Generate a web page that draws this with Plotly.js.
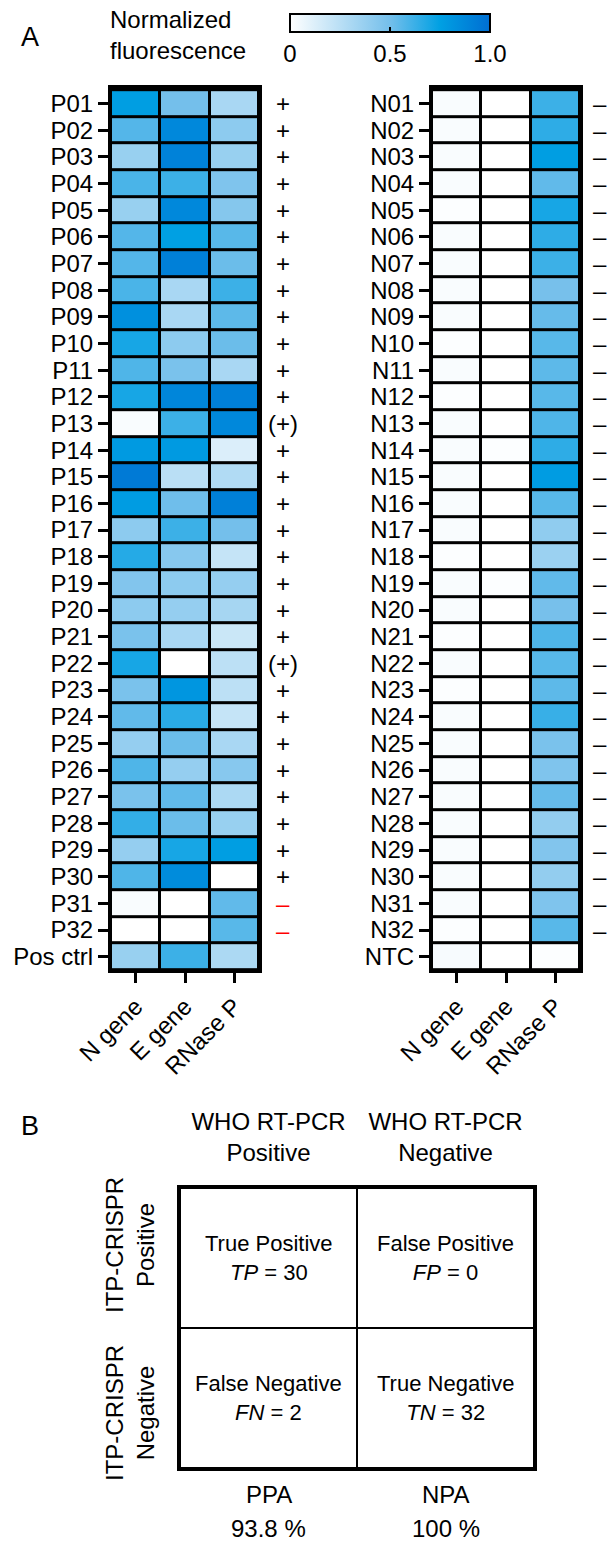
<!DOCTYPE html>
<html>
<head>
<meta charset="utf-8">
<script src="https://cdn.plot.ly/plotly-3.0.1.min.js"></script>
<style>
html,body{margin:0;padding:0;background:#fff;}
#chart{width:609px;height:1542px;}
</style>
</head>
<body>
<div id="chart"></div>
<script>
// ---------- Data ----------
const genes = ['N gene', 'E gene', 'RNase P'];

const posSamples = ['P01','P02','P03','P04','P05','P06','P07','P08','P09','P10','P11','P12','P13','P14','P15','P16',
  'P17','P18','P19','P20','P21','P22','P23','P24','P25','P26','P27','P28','P29','P30','P31','P32','Pos ctrl'];
const posN = [0.76,0.57,0.37,0.59,0.37,0.57,0.57,0.59,0.83,0.70,0.58,0.70,0.02,0.78,0.94,0.77,
  0.41,0.67,0.45,0.41,0.48,0.70,0.48,0.54,0.38,0.58,0.48,0.64,0.38,0.58,0.02,0.00,0.37];
const posE = [0.50,0.87,0.90,0.62,0.87,0.75,0.91,0.31,0.31,0.41,0.48,0.88,0.62,0.78,0.25,0.51,
  0.62,0.43,0.41,0.38,0.31,0.00,0.80,0.66,0.52,0.38,0.54,0.52,0.70,0.85,0.00,0.00,0.62];
const posR = [0.31,0.41,0.37,0.46,0.44,0.56,0.52,0.62,0.55,0.52,0.31,0.91,0.87,0.13,0.28,0.91,
  0.50,0.21,0.38,0.32,0.19,0.24,0.24,0.21,0.31,0.43,0.30,0.37,0.76,0.00,0.54,0.56,0.30];
const posCalls = ['+','+','+','+','+','+','+','+','+','+','+','+','(+)','+','+','+',
  '+','+','+','+','+','(+)','+','+','+','+','+','+','+','+','\u2013','\u2013',''];

const negSamples = ['N01','N02','N03','N04','N05','N06','N07','N08','N09','N10','N11','N12','N13','N14','N15','N16',
  'N17','N18','N19','N20','N21','N22','N23','N24','N25','N26','N27','N28','N29','N30','N31','N32','NTC'];
const negN = [0.02,0.02,0.02,0.02,0.01,0.02,0.02,0.02,0.02,0.01,0.02,0.01,0.02,0.02,0.02,0.02,
  0.02,0.01,0.02,0.02,0.01,0.02,0.01,0.02,0.02,0.02,0.02,0.02,0.02,0.02,0.02,0.01,0.03];
const negE = [0.00,0.00,0.00,0.00,0.00,0.00,0.00,0.00,0.00,0.00,0.00,0.00,0.00,0.01,0.00,0.00,
  0.00,0.00,0.01,0.00,0.00,0.00,0.00,0.00,0.00,0.00,0.00,0.00,0.00,0.00,0.00,0.00,0.00];
const negR = [0.62,0.65,0.76,0.54,0.70,0.65,0.62,0.49,0.53,0.56,0.55,0.56,0.58,0.65,0.77,0.56,
  0.40,0.36,0.54,0.49,0.58,0.56,0.55,0.63,0.48,0.46,0.53,0.39,0.45,0.39,0.46,0.56,0.01];
const negCalls = ['\u2013','\u2013','\u2013','\u2013','\u2013','\u2013','\u2013','\u2013','\u2013','\u2013','\u2013',
  '\u2013','\u2013','\u2013','\u2013','\u2013','\u2013','\u2013','\u2013','\u2013','\u2013','\u2013','\u2013','\u2013',
  '\u2013','\u2013','\u2013','\u2013','\u2013','\u2013','\u2013','\u2013',''];

const cbTickVals = [0, 0.5, 1];
const cbTickText = ['0', '0.5', '1.0'];

// Confusion matrix (panel B)
const refCats = ['WHO RT-PCR<br>Positive', 'WHO RT-PCR<br>Negative'];
const testCats = ['ITP-CRISPR<br>Positive', 'ITP-CRISPR<br>Negative'];
const cmNames = [['True Positive', 'False Positive'], ['False Negative', 'True Negative']];
const cmAbbr = [['TP', 'FP'], ['FN', 'TN']];
const cmCounts = [[30, 0], [2, 32]];
const agreeNames = ['PPA', 'NPA'];
const agreeVals = ['93.8 %', '100 %'];

// ---------- Layout helpers ----------
const W = 609, H = 1542;
const px = v => v / W;
const py = v => 1 - v / H;
const FONT = 'Liberation Sans, Arial, Helvetica, sans-serif';
const redCall = '#ff0000';

const zPos = posSamples.map((_, i) => [posN[i], posE[i], posR[i]]);
const zNeg = negSamples.map((_, i) => [negN[i], negE[i], negR[i]]);

const traces = [
  {type:'heatmap', x:genes, y:posSamples, z:zPos, coloraxis:'coloraxis', xgap:3, ygap:3,
   xaxis:'x', yaxis:'y', hoverinfo:'x+y+z'},
  {type:'heatmap', x:genes, y:negSamples, z:zNeg, coloraxis:'coloraxis', xgap:3, ygap:3,
   xaxis:'x2', yaxis:'y2', hoverinfo:'x+y+z'},
  {type:'heatmap', x:refCats, y:testCats, z:cmCounts, xgap:2, ygap:2,
   colorscale:[[0,'#ffffff'],[1,'#ffffff']], showscale:false,
   xaxis:'x3', yaxis:'y3', hoverinfo:'x+y+z'}
];

const hmAxisX = {
  type:'category', tickmode:'array', tickvals:genes, showline:true, mirror:true, linewidth:3, linecolor:'#000',
  ticks:'outside', ticklen:10, tickwidth:3, tickcolor:'#000',
  tickangle:-45, tickfont:{size:24, color:'#000', family:FONT}, showgrid:false, zeroline:false, fixedrange:true
};
const hmAxisY = {
  type:'category', tickmode:'array', autorange:'reversed', showline:true, mirror:true, linewidth:3, linecolor:'#000',
  ticks:'outside', ticklen:10, tickwidth:3, tickcolor:'#000',
  tickfont:{size:24, color:'#000', family:FONT}, showgrid:false, zeroline:false, fixedrange:true
};
const yDom = [py(970), py(88)];

const annotations = [];
annotations.push({text:'A', xref:'paper', yref:'paper', x:px(30), y:py(37), xanchor:'center', yanchor:'middle',
  showarrow:false, font:{size:27, color:'#000', family:FONT}});
annotations.push({text:'Normalized<br>fluorescence', xref:'paper', yref:'paper', x:px(108), y:py(35),
  xanchor:'left', yanchor:'middle', align:'left', showarrow:false, font:{size:24, color:'#000', family:FONT}});
posSamples.forEach((s, i) => {
  if (!posCalls[i]) return;
  annotations.push({text:posCalls[i], xref:'paper', yref:'y', x:px(283), y:s, xanchor:'center', yanchor:'middle',
    showarrow:false, font:{size:24, color: posCalls[i] === '\u2013' ? redCall : '#000', family:FONT}});
});
negSamples.forEach((s, i) => {
  if (!negCalls[i]) return;
  annotations.push({text:negCalls[i], xref:'paper', yref:'y2', x:px(600), y:s, xanchor:'center', yanchor:'middle',
    showarrow:false, font:{size:24, color:'#000', family:FONT}});
});
annotations.push({text:'B', xref:'paper', yref:'paper', x:px(30), y:py(1126), xanchor:'center', yanchor:'middle',
  showarrow:false, font:{size:27, color:'#000', family:FONT}});
// row labels of the confusion matrix (rotated)
const rowLabelY = [1245, 1413];
testCats.forEach((t, r) => {
  annotations.push({text:t, xref:'paper', yref:'paper', x:px(130), y:py(rowLabelY[r]), xanchor:'center', yanchor:'middle',
    textangle:-90, align:'center', showarrow:false, font:{size:24, color:'#000', family:FONT}});
});
testCats.forEach((t, r) => {
  refCats.forEach((c, k) => {
    annotations.push({text: cmNames[r][k] + '<br><i>' + cmAbbr[r][k] + '</i> = ' + cmCounts[r][k],
      xref:'x3', yref:'y3', x:c, y:t, xanchor:'center', yanchor:'middle', align:'center',
      showarrow:false, font:{size:22, color:'#000', family:FONT}});
  });
});
refCats.forEach((c, k) => {
  annotations.push({text:agreeNames[k], xref:'x3', yref:'paper', x:c, y:py(1494), xanchor:'center', yanchor:'middle',
    showarrow:false, font:{size:24, color:'#000', family:FONT}});
  annotations.push({text:agreeVals[k], xref:'x3', yref:'paper', x:c, y:py(1528), xanchor:'center', yanchor:'middle',
    showarrow:false, font:{size:24, color:'#000', family:FONT}});
});

const layout = {
  width:W, height:H, margin:{l:0, r:0, t:0, b:0},
  paper_bgcolor:'#ffffff', plot_bgcolor:'#000000',
  font:{family:FONT, color:'#000'},
  showlegend:false,
  coloraxis:{
    cmin:0, cmax:1,
    colorscale:[[0,'#ffffff'],[0.5,'#74bfeb'],[0.75,'#00a0e3'],[1,'#006ed2']],
    colorbar:{
      orientation:'h', x:px(390), xanchor:'center', y:py(14), yanchor:'top',
      len:200, lenmode:'pixels', thickness:18, thicknessmode:'pixels',
      xpad:0, ypad:0, outlinewidth:2, outlinecolor:'#000',
      tickvals:cbTickVals, ticktext:cbTickText, ticks:'inside', ticklen:6, tickwidth:2, tickcolor:'#000',
      tickfont:{size:24, color:'#000', family:FONT}
    }
  },
  xaxis: Object.assign({}, hmAxisX, {domain:[px(111), px(259)], anchor:'y'}),
  yaxis: Object.assign({}, hmAxisY, {tickvals:posSamples, domain:yDom, anchor:'x'}),
  xaxis2: Object.assign({}, hmAxisX, {domain:[px(432), px(580)], anchor:'y2'}),
  yaxis2: Object.assign({}, hmAxisY, {tickvals:negSamples, domain:yDom, anchor:'x2'}),
  xaxis3: {type:'category', tickmode:'array', tickvals:refCats, domain:[px(180), px(534)], anchor:'y3', side:'top',
    showline:true, mirror:true, linewidth:3, linecolor:'#000',
    ticks:'outside', ticklen:14, tickcolor:'rgba(0,0,0,0)',
    tickfont:{size:24, color:'#000', family:FONT}, showgrid:false, zeroline:false, fixedrange:true},
  yaxis3: {type:'category', domain:[py(1468), py(1188)], anchor:'x3', autorange:'reversed',
    showline:true, mirror:true, linewidth:3, linecolor:'#000', showticklabels:false, ticks:'',
    showgrid:false, zeroline:false, fixedrange:true},
  annotations: annotations
};

Plotly.newPlot('chart', traces, layout, {displayModeBar:false, staticPlot:true});
</script>
</body>
</html>
